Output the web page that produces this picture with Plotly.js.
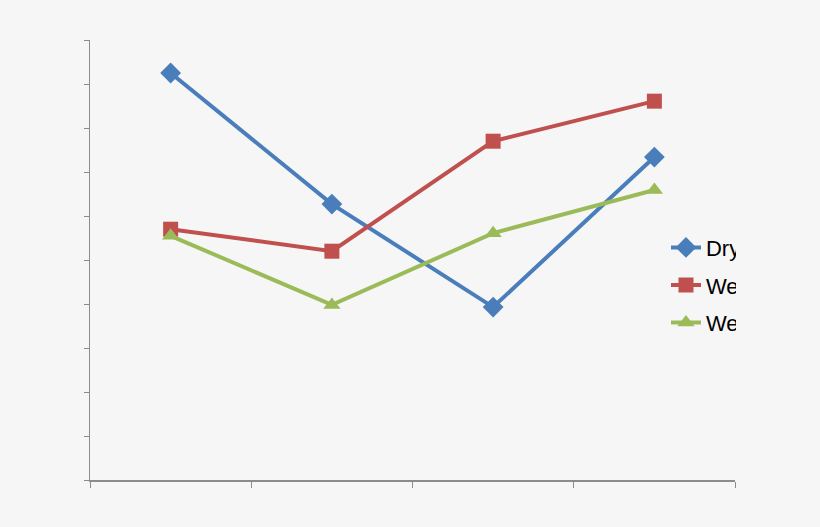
<!DOCTYPE html>
<html><head><meta charset="utf-8">
<script src="https://cdn.plot.ly/plotly-3.0.1.min.js"></script>
<style>
html,body{margin:0;padding:0;background:#f6f6f6;}
#clip{width:736px;height:527px;overflow:hidden;}
#plot{width:820px;height:527px;}
</style></head>
<body>
<div id="clip"><div id="plot"></div></div>
<script>
var categories = ["1", "2", "3", "4"];
var seriesNames = ["Dry", "Wet 1", "Wet 2"];
var dryValues = [9.25, 6.27, 3.93, 7.34];
var wet1Values = [5.70, 5.20, 7.70, 8.61];
var wet2Values = [5.55, 3.98, 5.61, 6.59];

var colors = ["#4a7ebb", "#c0504d", "#9bbb59"];
var symbols = ["diamond", "square", "triangle-up"];
var vals = [dryValues, wet1Values, wet2Values];

var data = vals.map(function(v, i){
  return {
    x: categories, y: v, type: "scatter", mode: "lines+markers",
    name: seriesNames[i], legendgroup: "g" + i,
    line: {color: colors[i], width: 4},
    marker: {symbol: symbols[i], size: i === 0 ? 16 : 15, color: colors[i]}
  };
});

var layout = {
  width: 820, height: 527,
  paper_bgcolor: "#f6f6f6", plot_bgcolor: "#f6f6f6",
  margin: {l: 90, r: 85, t: 40, b: 47},
  showlegend: true,
  legend: {x: 0.893, y: 0.443, xanchor: "left", yanchor: "middle",
    font: {family: "Liberation Sans, Arial, sans-serif", size: 22, color: "#000"},
    bgcolor: "rgba(0,0,0,0)", tracegroupgap: 6, traceorder: "grouped",
    itemwidth: 30},
  xaxis: {type: "category", range: [-0.5, 3.5], tickson: "boundaries",
    showticklabels: false, ticks: "outside", ticklen: 6, tickcolor: "#8c8c8c",
    showline: true, linecolor: "#8c8c8c", linewidth: 1.5, showgrid: false, zeroline: false, fixedrange: true},
  yaxis: {range: [0, 10], dtick: 1, showticklabels: false, ticks: "outside", ticklen: 5,
    tickcolor: "#8c8c8c", showline: true, linecolor: "#8c8c8c", linewidth: 1.5,
    showgrid: false, zeroline: false, fixedrange: true}
};

Plotly.newPlot("plot", data, layout, {staticPlot: true, displayModeBar: false});
</script>
</body></html>
